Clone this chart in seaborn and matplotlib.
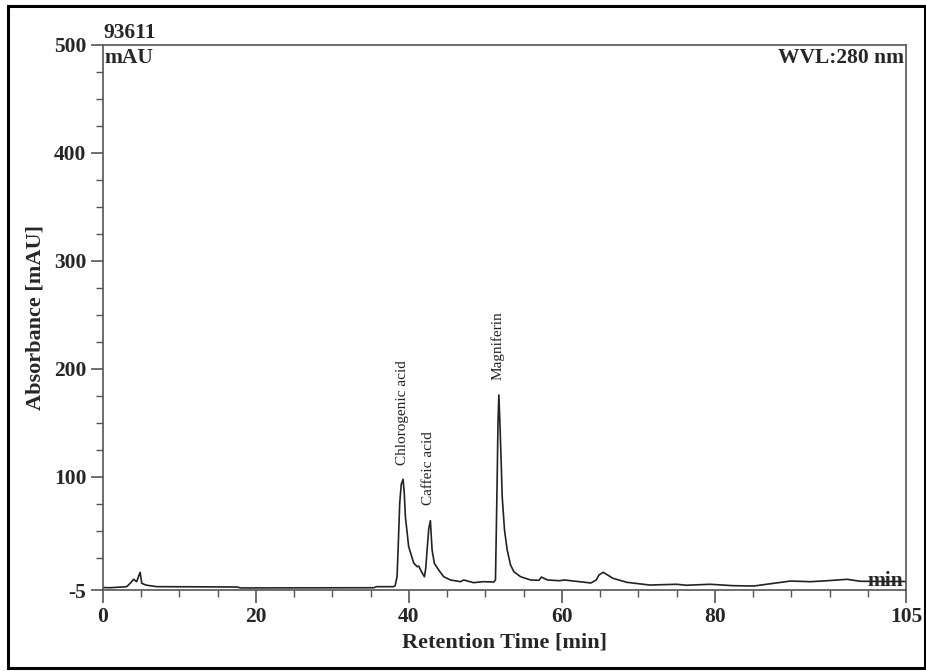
import numpy as np
import pandas as pd
import matplotlib
matplotlib.use("Agg")
import matplotlib.pyplot as plt
import seaborn as sns
from matplotlib.ticker import MultipleLocator, FixedLocator
from matplotlib.patches import Rectangle

# --- data ---
time_min = [0.0, 0.9, 3.1, 3.6, 4.0, 4.4, 4.85, 5.07, 5.6, 7.0, 17.5, 18.0, 35.4, 35.8,
            38.0, 38.2, 38.45, 38.6, 38.8, 39.0, 39.24, 39.4, 39.54, 39.97, 40.63, 41.07,
            41.28, 41.73, 42.03, 42.2, 42.38, 42.6, 42.81, 43.03, 43.33, 43.9, 44.55, 45.43,
            46.74, 47.17, 48.44, 49.75, 51.1, 51.32, 51.54, 51.65, 51.76, 51.9, 52.07, 52.2,
            52.5, 52.85, 53.29, 53.72, 54.6, 55.9, 57.0, 57.34, 58.1, 59.7, 60.3, 63.8, 64.5,
            64.85, 65.4, 66.7, 68.5, 71.5, 75.0, 76.3, 79.4, 82.4, 85.1, 87.7, 89.9, 92.5,
            94.7, 97.3, 99.0, 102.0, 105.0]
absorbance = [-2.7, -2.9, -1.9, 1.5, 4.9, 2.7, 11.4, 1.2, -0.4, -1.9, -2.2, -3.1, -2.9, -1.9,
              -1.9, -1.0, 7.3, 35.0, 75.6, 93.0, 97.6, 84.0, 62.9, 35.1, 20.0, 16.6,
              17.2, 10.8, 7.3, 15.0, 32.1, 52.0, 59.2, 32.1, 19.7, 13.5, 7.3, 4.3,
              2.7, 4.3, 1.8, 2.7, 2.4, 4.3, 96.9, 150.0, 175.7, 150.0, 112.4, 81.5,
              50.6, 32.1, 18.2, 12.0, 7.3, 4.3, 4.0, 7.0, 4.3, 3.6, 4.3, 1.5, 4.3,
              8.9, 11.4, 5.8, 2.1, -0.4, 0.3, -0.6, 0.3, -1.0, -1.3, 1.2, 3.3, 2.7,
              3.6, 4.9, 3.1, 2.9, 2.9]

peak_names = ["Chlorogenic acid", "Caffeic acid", "Magniferin"]
peak_label_t = [39.1, 42.55, 51.6]
peak_label_v = [111.0, 74.0, 190.0]

x_major = [0, 20, 40, 60, 80, 105]
y_major = [-5, 100, 200, 300, 400, 500]

df = pd.DataFrame({"t": time_min, "a": absorbance})

sns.set_theme(style="white")
plt.rcParams["font.family"] = ["Liberation Serif", "DejaVu Serif"]
plt.rcParams["axes.unicode_minus"] = False

fig = plt.figure(figsize=(9.26, 6.71), dpi=100)
W, H = 926, 671
ax = fig.add_axes([103 / W, 1 - 590 / H, (906 - 103) / W, (590 - 45) / H])

sns.lineplot(data=df, x="t", y="a", ax=ax, color="#222222", linewidth=1.2, estimator=None)

ax.set_xlim(0, 105)
ax.set_ylim(-5, 500)

ax.xaxis.set_major_locator(FixedLocator(x_major))
ax.xaxis.set_minor_locator(MultipleLocator(5))
ax.yaxis.set_major_locator(FixedLocator(y_major))
ax.yaxis.set_minor_locator(FixedLocator([25, 50, 75, 125, 150, 175, 225, 250, 275,
                                         325, 350, 375, 425, 450, 475]))
ax.tick_params(axis="both", which="major", direction="out", length=9, width=1.2,
               color="#555555", labelsize=15.5, pad=3)
ax.tick_params(axis="both", which="minor", direction="out", length=5, width=1.0,
               color="#555555")
ax.tick_params(axis="x", which="both", bottom=True)
ax.tick_params(axis="y", which="both", left=True)
for lab in ax.get_xticklabels() + ax.get_yticklabels():
    lab.set_fontweight("bold")

for s in ax.spines.values():
    s.set_visible(True)
    s.set_color("#555555")
    s.set_linewidth(1.2)

ax.set_xlabel("Retention Time [min]", fontsize=16, fontweight="bold", labelpad=4)
ax.set_ylabel("Absorbance [mAU]", fontsize=16, fontweight="bold", labelpad=6)

# annotations
ax.text(0.0, 1.003, "93611", transform=ax.transAxes, ha="left", va="bottom",
        fontsize=15.5, fontweight="bold")
ax.text(0.002, 0.994, "mAU", transform=ax.transAxes, ha="left", va="top",
        fontsize=15.5, fontweight="bold")
ax.text(0.997, 0.994, "WVL:280 nm", transform=ax.transAxes, ha="right", va="top",
        fontsize=15.5, fontweight="bold")
ax.text(0.997, 0.017, "min", transform=ax.transAxes, ha="right", va="center",
        fontsize=15.5, fontweight="bold")

for name, t, v in zip(peak_names, peak_label_t, peak_label_v):
    ax.text(t, v, name, rotation=90, ha="center", va="bottom", fontsize=11, color="#222222")

# outer frame
fig.patches.append(Rectangle((8 / W, 1 - 668 / H), (925 - 8) / W, (668 - 6) / H,
                             transform=fig.transFigure, fill=False, edgecolor="black",
                             linewidth=2.2))

fig.savefig("out.png", dpi=100)
